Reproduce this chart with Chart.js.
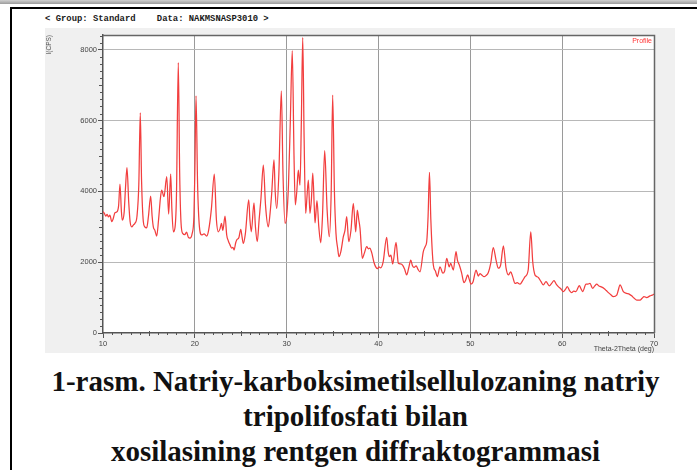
<!DOCTYPE html>
<html>
<head>
<meta charset="utf-8">
<script src="https://cdn.jsdelivr.net/npm/chart.js@4.4.1/dist/chart.umd.min.js"></script>
<style>
  html, body { margin: 0; padding: 0; background: #fff; }
  body { width: 697px; height: 470px; position: relative; overflow: hidden; }
  .topbar { position: absolute; left: 0; top: 0; width: 697px; height: 4px; background: linear-gradient(#d0d0d0, #9c9c9c); }
  .frame { position: absolute; left: 10px; top: 7px; width: 700px; height: 470px; border-left: 2.5px solid #000; border-top: 2px solid #000; }
  .header { position: absolute; left: 45px; top: 14px; font: bold 8.9px "Liberation Mono", monospace; color: #1a1a1a; white-space: pre; }
  .panel { position: absolute; left: 45px; top: 28px; width: 630px; height: 325px; background: #f0f0f0; }
  .caption { position: absolute; left: 0; width: 711px; text-align: center; font: bold 29px "Liberation Serif", serif; line-height: 35px; color: #111; }
</style>
</head>
<body>
<div class="topbar"></div>
<div class="frame"></div>
<div class="header">&lt; Group: Standard    Data: NAKMSNASP3010 &gt;</div>
<div class="panel"><canvas id="xrd" width="630" height="325"></canvas></div>
<div class="caption" style="top:364px">1-rasm. Natriy-karboksimetilsellulozaning natriy</div>
<div class="caption" style="top:399px">tripolifosfati bilan</div>
<div class="caption" style="top:434px">xosilasining rentgen diffraktogrammasi</div>

<script>
// scan: 2-theta (deg) and counts per second
const twoTheta = [
  10.0, 10.15, 10.3, 10.45, 10.6, 10.75, 10.95, 11.1, 11.3, 11.5, 11.7, 11.85, 12.0, 12.1, 12.3, 12.45, 12.61, 12.8, 12.95, 13.13,
  13.3, 13.48, 13.7, 13.9, 14.06, 14.2, 14.39, 14.55, 14.76, 14.95, 15.19, 15.35, 15.48, 15.65, 15.85, 16.05, 16.25, 16.39, 16.64, 16.94,
  17.15, 17.37, 17.5, 17.66, 17.85, 18.0, 18.2, 18.35, 18.5, 18.68, 18.9, 19.1, 19.3, 19.47, 19.7, 19.9, 20.0, 20.13, 20.3, 20.5,
  20.75, 21.0, 21.29, 21.5, 21.8, 22.12, 22.35, 22.56, 22.75, 22.9, 23.05, 23.29, 23.47, 23.65, 23.83, 24.0, 24.15, 24.27, 24.45, 24.56,
  24.8, 25.0, 25.15, 25.28, 25.5, 25.87, 26.0, 26.15, 26.44, 26.6, 26.8, 27.0, 27.2, 27.46, 27.7, 28.0, 28.2, 28.37, 28.62, 28.75,
  28.92, 29.15, 29.42, 29.6, 29.82, 30.0, 30.2, 30.4, 30.61, 30.8, 30.94, 31.1, 31.27, 31.45, 31.6, 31.75, 31.9, 32.07, 32.2, 32.36,
  32.54, 32.7, 32.84, 33.0, 33.09, 33.3, 33.5, 33.71, 33.9, 34.14, 34.4, 34.64, 34.85, 35.01, 35.2, 35.37, 35.55, 35.7, 35.9, 36.17,
  36.35, 36.54, 36.76, 37.0, 37.26, 37.52, 37.69, 37.85, 37.99, 38.24, 38.45, 38.72, 38.9, 39.05, 39.26, 39.5, 39.73, 39.9, 40.05, 40.24,
  40.5, 40.89, 41.05, 41.18, 41.35, 41.55, 41.91, 42.16, 42.4, 42.64, 42.85, 43.07, 43.3, 43.51, 43.7, 43.87, 44.1, 44.3, 44.52, 44.88,
  45.1, 45.25, 45.4, 45.55, 45.7, 45.97, 46.2, 46.4, 46.7, 47.0, 47.2, 47.43, 47.7, 47.86, 48.15, 48.44, 48.6, 48.8, 49.05, 49.31,
  49.5, 49.71, 49.9, 50.07, 50.3, 50.62, 50.87, 51.05, 51.24, 51.49, 51.7, 51.96, 52.22, 52.5, 52.8, 53.05, 53.3, 53.6, 53.89, 54.14,
  54.4, 54.6, 54.87, 55.1, 55.41, 55.7, 55.96, 56.3, 56.58, 56.8, 57.04, 57.2, 57.4, 57.7, 57.95, 58.24, 58.6, 58.85, 59.11, 59.35,
  59.58, 59.85, 60.12, 60.35, 60.56, 60.8, 61.04, 61.25, 61.5, 61.87, 62.05, 62.23, 62.6, 62.8, 63.03, 63.32, 63.55, 63.76, 64.0, 64.2,
  64.56, 64.8, 65.03, 65.3, 65.57, 65.94, 66.1, 66.3, 66.66, 67.03, 67.3, 67.57, 67.85, 68.12, 68.48, 68.7, 68.91, 69.2, 69.57, 69.8,
  70.0
];
const intensity = [
  3430, 3380, 3300, 3350, 3280, 3330, 3150, 3220, 3400, 3420, 3600, 4210, 3450, 3190, 3400, 4100, 4670, 3700, 3150, 3000,
  3050, 3100, 3300, 4200, 6220, 4300, 3150, 3000, 2970, 3300, 3870, 3300, 3000, 2900, 2740, 3200, 3800, 4040, 3850, 4415,
  3360, 4490, 3500, 2860, 3000, 3900, 7640, 4500, 3100, 2815, 2780, 2850, 2700, 2680, 2800, 3300, 4500, 6700, 4200, 3000,
  2770, 2800, 2740, 2900, 3500, 4490, 3200, 2860, 2950, 3100, 2900, 3300, 2770, 2600, 2490, 2400, 2420, 2345, 2550, 2630,
  2700, 2930, 2700, 2530, 2800, 3760, 3200, 2860, 3680, 3000, 2580, 3200, 3800, 4745, 3600, 3000, 3400, 3945, 4890, 4000,
  3520, 4500, 6840, 4500, 3100, 3300, 4200, 6000, 7975, 5000, 3620, 4000, 4600, 4180, 6000, 8350, 5500, 3380, 3800, 4320,
  3380, 3800, 4520, 3600, 3110, 3740, 3000, 2550, 3300, 5150, 3500, 2720, 4000, 6720, 4000, 2815, 2400, 2155, 2300, 2720,
  2900, 3285, 2580, 2900, 3660, 2860, 3470, 3200, 2950, 2110, 2250, 2440, 2380, 2400, 2270, 2000, 1855, 1820, 1870, 1840,
  2000, 2700, 2300, 2155, 2200, 1950, 2560, 1970, 1950, 1910, 1800, 1640, 1850, 2060, 1900, 1855, 1900, 1800, 1730, 2300,
  2450, 2580, 3300, 4540, 3200, 1920, 1750, 1590, 1870, 1690, 1750, 2110, 1870, 1970, 1780, 2300, 2050, 1920, 1700, 1420,
  1500, 1640, 1500, 1380, 1450, 1780, 1610, 1680, 1640, 1590, 1620, 1710, 1970, 2410, 2060, 1830, 1920, 2460, 1830, 1640,
  1730, 1600, 1400, 1420, 1380, 1480, 1590, 1780, 2860, 2000, 1640, 1600, 1570, 1450, 1360, 1450, 1330, 1400, 1480, 1380,
  1310, 1250, 1170, 1230, 1310, 1200, 1140, 1180, 1170, 1340, 1250, 1170, 1380, 1380, 1400, 1260, 1330, 1380, 1330, 1310,
  1260, 1200, 1140, 1080, 1030, 1070, 1200, 1360, 1170, 1120, 1100, 1050, 980, 930, 930, 980, 1030, 1000, 1050, 1070,
  1100
];
const xTicks = [10, 20, 30, 40, 50, 60, 70];
const yTicks = [0, 2000, 4000, 6000, 8000];
const xMin = 10, xMax = 70, yMax = 8420;

// minor ticks, the top/right frame and the "Profile" tag
const plotDecor = {
  id: 'plotDecor',
  afterDraw(chart) {
    const { ctx, chartArea: a, scales: { x, y } } = chart;
    ctx.save();
    ctx.strokeStyle = '#555';
    ctx.lineWidth = 1;
    ctx.beginPath();
    for (let d = 11; d < 70; d++) {
      if (d % 10 === 0) continue;
      const px = Math.round(x.getPixelForValue(d)) + 0.5;
      const len = d % 5 === 0 ? 3 : 2;
      ctx.moveTo(px, a.bottom - (d % 5 === 0 ? 2 : 0));
      ctx.lineTo(px, a.bottom + len);
    }
    for (let v = 200; v < yMax; v += 200) {
      if (v % 2000 === 0) continue;
      const py = Math.round(y.getPixelForValue(v)) + 0.5;
      const len = v % 1000 === 0 ? 4 : 3;
      ctx.moveTo(a.left - len, py);
      ctx.lineTo(a.left, py);
    }
    ctx.stroke();

    ctx.strokeStyle = '#666';
    ctx.lineWidth = 1.5;
    ctx.beginPath();
    ctx.moveTo(a.left, a.top + 0.5);
    ctx.lineTo(a.right + 0.5, a.top + 0.5);
    ctx.lineTo(a.right + 0.5, a.bottom);
    ctx.stroke();

    ctx.fillStyle = '#ff3535';
    ctx.font = '7px "Liberation Sans", Arial, sans-serif';
    ctx.textAlign = 'right';
    ctx.textBaseline = 'top';
    ctx.fillText('Profile', a.right - 2, a.top + 3);
    ctx.restore();
  }
};

const plotBg = {
  id: 'plotBg',
  beforeDraw(chart) {
    const { ctx, chartArea: a } = chart;
    ctx.save();
    ctx.fillStyle = '#fff';
    ctx.fillRect(a.left, a.top, a.right - a.left, a.bottom - a.top);
    ctx.restore();
  }
};

const tickFont = { family: '"Liberation Sans", Arial, sans-serif', size: 7.5 };

new Chart(document.getElementById('xrd'), {
  type: 'line',
  data: {
    datasets: [{
      label: 'Profile',
      data: twoTheta.map((t, i) => ({ x: t, y: intensity[i] })),
      borderColor: 'rgb(242,62,62)',
      borderWidth: 1.25,
      pointRadius: 0,
      fill: false,
      cubicInterpolationMode: 'monotone'
    }]
  },
  options: {
    responsive: false,
    animation: false,
    events: [],
    layout: { padding: { top: 7, right: 21, left: 0, bottom: 0 } },
    plugins: { legend: { display: false }, tooltip: { enabled: false } },
    scales: {
      x: {
        type: 'linear',
        min: xMin,
        max: xMax,
        afterBuildTicks: s => { s.ticks = xTicks.map(v => ({ value: v })); },
        afterFit: s => { s.height = 20; },
        grid: {
          color: c => (c.tick && (c.tick.value === xMin || c.tick.value === xMax)) ? 'rgba(0,0,0,0)' : '#9a9a9a',
          lineWidth: 1,
          tickColor: '#555',
          tickLength: 5
        },
        border: { color: '#555', width: 1.5 },
        ticks: { color: '#444', font: tickFont, padding: 1, maxRotation: 0, callback: v => String(v) },
        title: {
          display: true,
          text: 'Theta-2Theta (deg)',
          align: 'end',
          color: '#444',
          font: { family: '"Liberation Sans", Arial, sans-serif', size: 7 },
          padding: { top: -4, bottom: 0 }
        }
      },
      y: {
        type: 'linear',
        min: 0,
        max: yMax,
        afterBuildTicks: s => { s.ticks = yTicks.map(v => ({ value: v })); },
        afterFit: s => { s.width = 58; },
        grid: {
          color: c => (c.tick && c.tick.value === 0) ? 'rgba(0,0,0,0)' : '#b8b8b8',
          lineWidth: 1,
          tickColor: '#555',
          tickLength: 5
        },
        border: { color: '#555', width: 1.5 },
        ticks: { color: '#444', font: tickFont, padding: 1, callback: v => String(v) },
        title: {
          display: true,
          text: 'I(CPS)',
          align: 'end',
          color: '#555',
          font: { family: '"Liberation Sans", Arial, sans-serif', size: 6.5 },
          padding: 0
        }
      }
    }
  },
  plugins: [plotBg, plotDecor]
});
</script>
</body>
</html>
